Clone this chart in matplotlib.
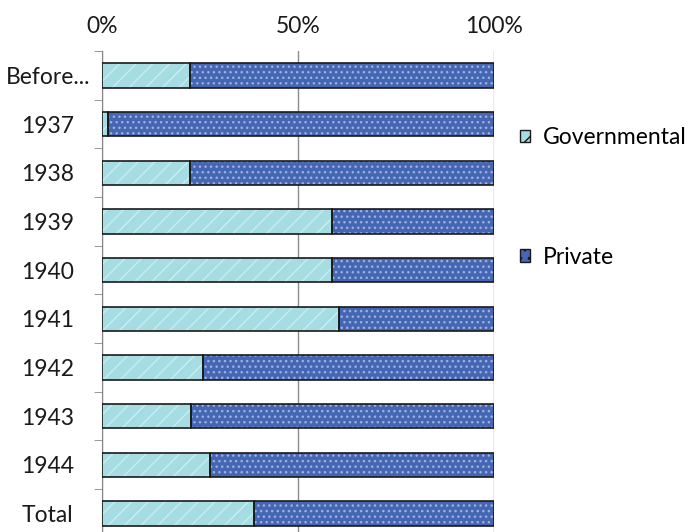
import matplotlib.pyplot as plt
import matplotlib.ticker as mticker
from matplotlib.patches import Patch

plt.rcParams['font.family'] = ['Lato', 'DejaVu Sans']

years = ["Before...", "1937", "1938", "1939", "1940", "1941",
         "1942", "1943", "1944", "Total"]
governmental = [22.4, 1.5, 22.4, 58.7, 58.7, 60.4, 25.7, 22.7, 27.6, 38.8]
private = [100 - g for g in governmental]

gov_color = "#a6dde3"
priv_color = "#4566b2"
fs = 16.5

fig = plt.figure(figsize=(6.91, 5.32), dpi=100)
ax = fig.add_axes([0.1476, -0.011, 0.5673, 0.915])

pos = list(range(len(years)))
h = 0.5

# fill with a light hatch to suggest the textured fills, then outline separately
ax.barh(pos, governmental, height=h, color=gov_color, hatch="//",
        edgecolor="#c6edf0", linewidth=0, zorder=3)
ax.barh(pos, private, left=governmental, height=h, color=priv_color,
        hatch="...", edgecolor="#9db1e0", linewidth=0, zorder=3)
ax.barh(pos, governmental, height=h, fill=False, edgecolor="#1a1a1a",
        linewidth=1.2, zorder=4)
ax.barh(pos, private, left=governmental, height=h, fill=False,
        edgecolor="#1a1a1a", linewidth=1.2, zorder=4)

ax.set_xlim(0, 100)
ax.set_ylim(len(years) - 0.5, -0.5)
ax.xaxis.tick_top()
ax.set_xticks([0, 50, 100])
ax.xaxis.set_major_formatter(mticker.FuncFormatter(lambda v, p: f"{v:.0f}%"))
ax.tick_params(axis="x", length=0, pad=10, labelsize=fs, colors="#1a1a1a")

ax.set_yticks(pos)
ax.set_yticklabels(years, ha="center")
ax.set_yticks([p + 0.5 for p in pos[:-1]] + [-0.5], minor=True)
ax.tick_params(axis="y", which="major", length=0, pad=39, labelsize=fs,
               colors="#1a1a1a")
ax.tick_params(axis="y", which="minor", length=6, color="#888888")

ax.grid(axis="x", color="#8c8c8c", linewidth=1, zorder=0)
for s in ["top", "right", "bottom"]:
    ax.spines[s].set_visible(False)
ax.spines["left"].set_color("#888888")

handles = [Patch(facecolor=gov_color, edgecolor="#1a1a1a", hatch="//",
                 label="Governmental"),
           Patch(facecolor=priv_color, edgecolor="#1a1a1a", hatch="..",
                 label="Private")]
fig.legend(handles=handles, loc="upper left", bbox_to_anchor=(0.722, 0.80),
           frameon=False, fontsize=fs, handlelength=0.45, handleheight=0.45,
           handletextpad=0.55, labelspacing=4.3)

fig.savefig("out.png", dpi=100)
